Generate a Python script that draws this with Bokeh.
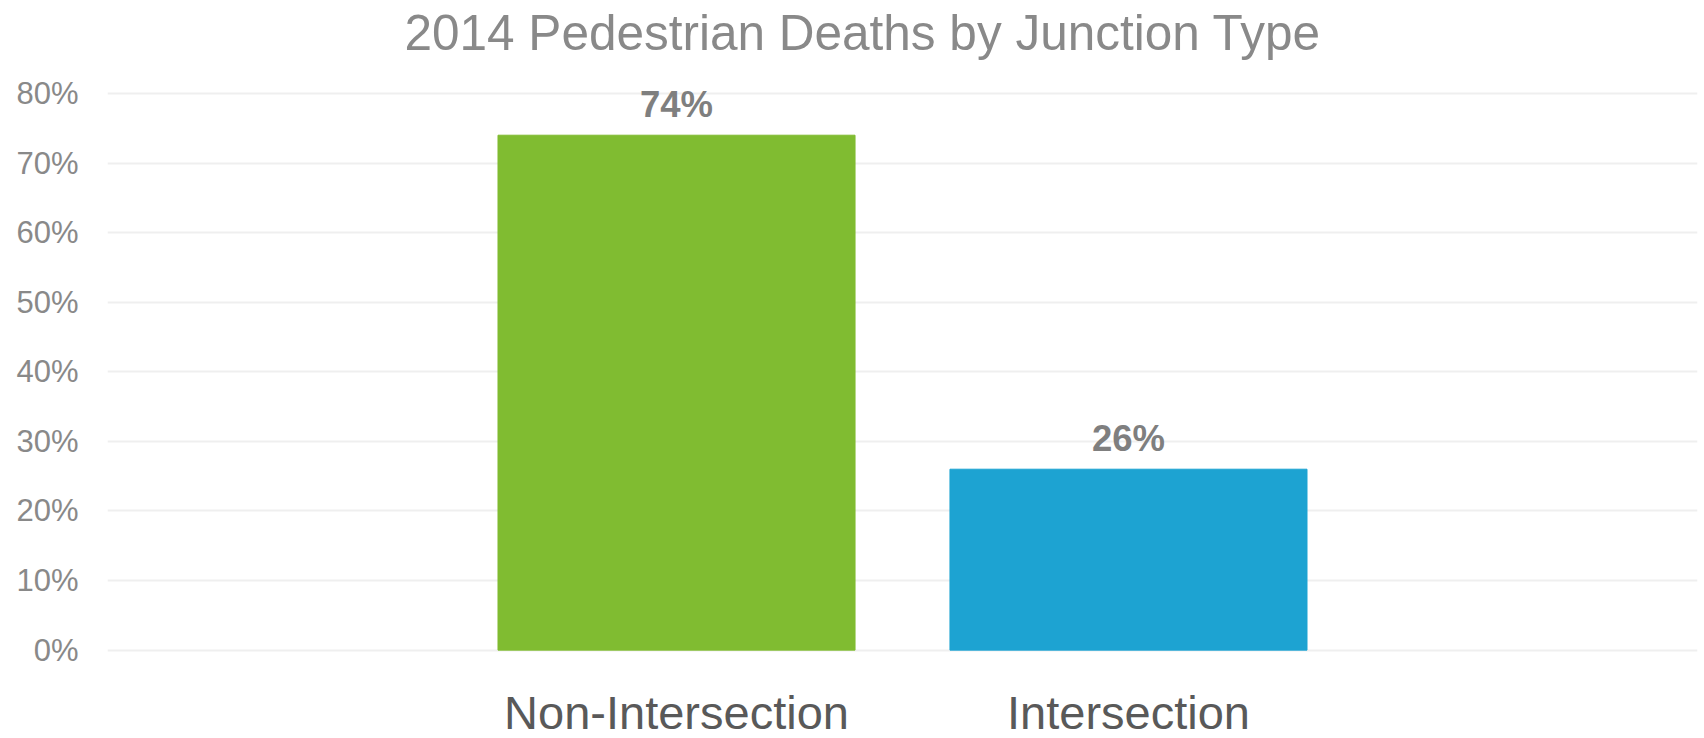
from bokeh.plotting import figure
from bokeh.models import ColumnDataSource, FactorRange, Range1d, LabelSet, NumeralTickFormatter, FixedTicker, Title
from bokeh.core.properties import value
from bokeh.embed import file_html
from bokeh.resources import INLINE

title_text = "2014 Pedestrian Deaths by Junction Type"
categories = ["Non-Intersection", "Intersection"]
shares = [0.74, 0.26]
bar_colors = ["#80BC31", "#1DA3D2"]
value_labels = ["74%", "26%"]
y_ticks = [0.0, 0.1, 0.2, 0.3, 0.4, 0.5, 0.6, 0.7, 0.8]

FONT = "Liberation Sans"

source = ColumnDataSource(dict(cat=categories, share=shares, color=bar_colors, label=value_labels))

p = figure(width=1704, height=738, title=None,
           x_range=FactorRange(*categories, range_padding=0.759),
           y_range=Range1d(-0.127, 0.81),
           output_backend="svg", toolbar_location=None,
           min_border_left=107, min_border_right=7, min_border_top=86, min_border_bottom=0)

# spacer between the frame and the title
spacer = Title(text=" ", text_font_size="10px", standoff=12, text_color="white")
p.add_layout(spacer, "above")

main_title = Title(text=title_text, text_font=FONT, text_font_size="49.5px",
                   text_font_style="normal", text_color="#898989",
                   align="left", offset=297, vertical_align="bottom", standoff=4)
p.add_layout(main_title, "above")

p.outline_line_color = None
p.background_fill_color = "white"
p.border_fill_color = "white"

p.vbar(x="cat", top="share", width=0.79, color="color", source=source)

p.xaxis.visible = False
p.xgrid.grid_line_color = None
p.ygrid.grid_line_color = "#efefef"
p.ygrid.grid_line_width = 2
p.ygrid.ticker = FixedTicker(ticks=y_ticks)

ya = p.yaxis[0]
ya.ticker = FixedTicker(ticks=y_ticks)
ya.formatter = NumeralTickFormatter(format="0%")
ya.axis_line_color = None
ya.major_tick_line_color = None
ya.minor_tick_line_color = None
ya.major_label_text_font = FONT
ya.major_label_text_font_size = "31px"
ya.major_label_text_color = "#898989"
ya.major_label_standoff = 23

value_set = LabelSet(x="cat", y="share", text="label", source=source,
                     y_offset=18, text_align="center", text_baseline="alphabetic",
                     text_font=value(FONT), text_font_size="36.5px", text_font_style="bold",
                     text_color="#7f7f7f")
p.add_layout(value_set)

cat_set = LabelSet(x="cat", y=0, text="cat", source=source,
                   y_offset=-79, text_align="center", text_baseline="alphabetic",
                   text_font=value(FONT), text_font_size="47px", text_color="#595959")
p.add_layout(cat_set)

open("out.html", "w").write(file_html(p, INLINE))
